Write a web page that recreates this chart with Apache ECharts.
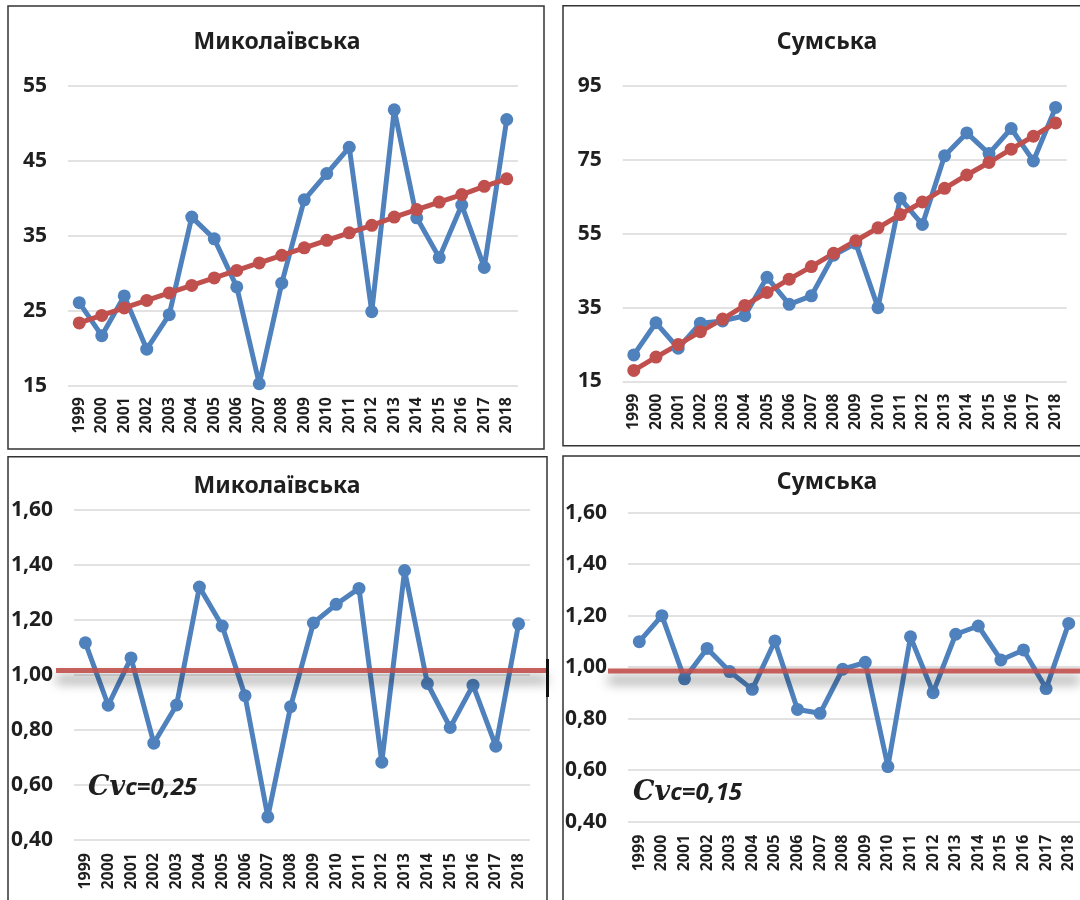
<!DOCTYPE html>
<html>
<head>
<meta charset="utf-8">
<script src="https://cdn.jsdelivr.net/npm/echarts@6/dist/echarts.min.js"></script>
<style>
  html, body { margin: 0; padding: 0; background: #fff; }
  #chart { width: 1080px; height: 900px; }
</style>
</head>
<body>
<div id="chart"></div>
<script>
var years = ['1999','2000','2001','2002','2003','2004','2005','2006','2007','2008',
             '2009','2010','2011','2012','2013','2014','2015','2016','2017','2018'];

// Миколаївська, abs values + trend
var mykValues = [26.1, 21.7, 27.0, 19.9, 24.5, 37.5, 34.6, 28.2, 15.3, 28.7,
                 39.8, 43.3, 46.8, 24.9, 51.8, 37.4, 32.1, 39.1, 30.8, 50.5];
var mykTrend  = [23.4, 24.4, 25.4, 26.4, 27.4, 28.4, 29.4, 30.4, 31.4, 32.4,
                 33.4, 34.4, 35.4, 36.4, 37.5, 38.5, 39.5, 40.5, 41.6, 42.6];

// Сумська, abs values + trend
var sumValues = [22.2, 30.9, 24.0, 30.8, 31.4, 32.8, 43.2, 35.9, 38.2, 49.2,
                 52.4, 35.0, 64.6, 57.5, 76.1, 82.3, 76.7, 83.5, 74.7, 89.2];
var sumTrend  = [18.0, 21.6, 25.0, 28.5, 31.9, 35.6, 39.1, 42.7, 46.1, 49.7,
                 53.1, 56.6, 60.2, 63.6, 67.3, 70.9, 74.3, 77.9, 81.4, 85.0];

// modular coefficients
var mykCoef = [1.117, 0.890, 1.062, 0.752, 0.891, 1.320, 1.178, 0.925, 0.484, 0.885,
               1.189, 1.257, 1.315, 0.683, 1.380, 0.969, 0.809, 0.963, 0.741, 1.186];
var sumCoef = [1.099, 1.200, 0.955, 1.073, 0.983, 0.914, 1.102, 0.836, 0.821, 0.992,
               1.019, 0.614, 1.118, 0.901, 1.128, 1.160, 1.028, 1.067, 0.917, 1.170];

var mykLevel = 1.016;
var sumLevel = 0.985;

var titles = ['Миколаївська', 'Сумська', 'Миколаївська', 'Сумська'];
var cvLabels = ['0,25', '0,15'];

var BLUE = '#4F81BD';
var RED = '#C0504D';
var TXT = '#1f1f1f';

var chart = echarts.init(document.getElementById('chart'));

function xAx(i, margin) {
  return {
    type: 'category', gridIndex: i, data: years, boundaryGap: true,
    axisLine: {show: false}, axisTick: {show: false},
    axisLabel: {rotate: 90, margin: margin, fontSize: 16, fontWeight: 'bold',
                color: TXT, fontFamily: 'Noto Sans'}
  };
}
function yAx(i, min, max, step, fmt) {
  return {
    type: 'value', gridIndex: i, min: min, max: max, interval: step,
    axisLine: {show: false}, axisTick: {show: false},
    splitLine: {lineStyle: {color: '#d9d9d9', width: 1.5}},
    axisLabel: {margin: 21, fontSize: 21, fontWeight: 'bold', color: TXT,
                fontFamily: 'Noto Sans', formatter: fmt}
  };
}
function line(i, data, color) {
  return {
    type: 'line', xAxisIndex: i, yAxisIndex: i, data: data,
    symbol: 'circle', symbolSize: 13, color: color,
    lineStyle: {color: color, width: 5}, itemStyle: {color: color},
    silent: true, animation: false
  };
}
var commaFmt = function (v) { return v.toFixed(2).replace('.', ','); };

chart.setOption({
  backgroundColor: '#fff',
  animation: false,
  grid: [
    {left: 68, top: 85.7, width: 450, height: 300.3},
    {left: 622.7, top: 86, width: 444, height: 295.5},
    {left: 74, top: 510, width: 456, height: 330},
    {left: 628, top: 512.7, width: 457, height: 309}
  ],
  xAxis: [xAx(0, 11), xAx(1, 12), xAx(2, 13), xAx(3, 13)],
  yAxis: [
    yAx(0, 15, 55, 10),
    yAx(1, 15, 95, 20),
    yAx(2, 0.4, 1.6, 0.2, commaFmt),
    yAx(3, 0.4, 1.6, 0.2, commaFmt)
  ],
  series: [
    line(0, mykValues, BLUE),
    line(0, mykTrend, RED),
    line(1, sumValues, BLUE),
    line(1, sumTrend, RED),
    line(2, mykCoef, BLUE),
    line(3, sumCoef, BLUE)
  ]
});

// reference lines for the coefficient charts, placed through the axis scale
var yMyk = chart.convertToPixel({gridIndex: 2}, [0, mykLevel])[1];
var ySum = chart.convertToPixel({gridIndex: 3}, [0, sumLevel])[1];

function frame(x, y, w, h) {
  return {type: 'rect', z: 0, silent: true, shape: {x: x, y: y, width: w, height: h},
          style: {fill: null, stroke: '#333', lineWidth: 1.5}};
}
function title(text, cx, cy) {
  return {type: 'text', z: 10, x: cx, y: cy,
          style: {text: text, fill: TXT, font: 'bold 23px "Noto Sans"',
                  align: 'center', verticalAlign: 'middle'}};
}
function refLine(x1, x2, y) {
  return {type: 'line', z: 5, silent: true, shape: {x1: x1, y1: y, x2: x2, y2: y},
          style: {stroke: RED, lineWidth: 5, opacity: 0.9,
                  shadowColor: 'rgba(0,0,0,0.6)', shadowBlur: 12, shadowOffsetY: 9}};
}
function cvText(val, x, cy) {
  return {type: 'text', z: 10, x: x, y: cy,
          style: {
            text: '{a|Cv}{b|c=' + val + '}',
            verticalAlign: 'middle',
            rich: {
              a: {fontFamily: 'DejaVu Serif', fontStyle: 'italic', fontWeight: 'bold',
                  fontSize: 27, fill: TXT},
              b: {fontFamily: 'Noto Sans', fontStyle: 'italic', fontWeight: 'bold',
                  fontSize: 24, fill: TXT}
            }
          }};
}

chart.setOption({
  graphic: [
    frame(8, 6, 536, 443),
    frame(563, 5.7, 530, 440),
    frame(8, 456.7, 539, 460),
    frame(563, 456, 530, 460),
    {type: 'line', z: 6, shape: {x1: 547.5, y1: 659, x2: 547.5, y2: 697},
     style: {stroke: '#111', lineWidth: 3}},
    title(titles[0], 277, 42),
    title(titles[1], 827, 42),
    title(titles[2], 277, 486),
    title(titles[3], 827, 482),
    refLine(56, 547, yMyk),
    refLine(608, 1080, ySum),
    cvText(cvLabels[0], 88, 788),
    cvText(cvLabels[1], 633, 793)
  ]
});
</script>
</body>
</html>
